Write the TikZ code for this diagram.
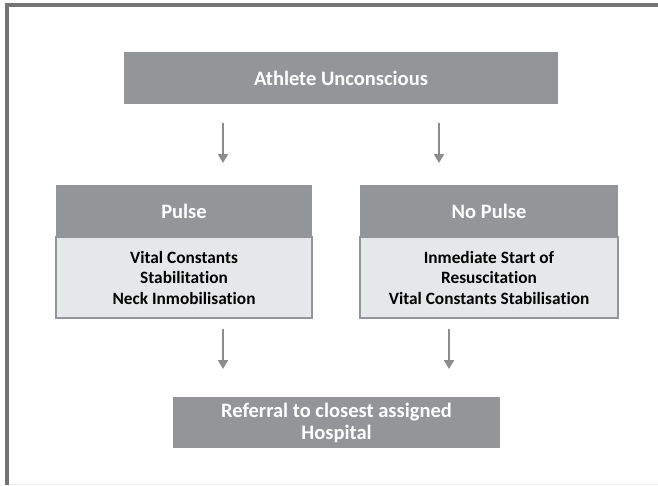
\documentclass[tikz,border=0pt]{standalone}
\usepackage{fontspec}
\setmainfont{Carlito}[RawFeature=-liga]
\usetikzlibrary{arrows.meta}
\definecolor{boxgray}{HTML}{939598}
\definecolor{lightbox}{HTML}{E6E7E8}
\definecolor{framegray}{HTML}{747474}
\definecolor{arrowgray}{HTML}{8C8C8C}
\tikzset{
  headbox/.style={rectangle, fill=boxgray, draw=none, text=white, font=\bfseries\fontsize{20.5}{22}\selectfont, align=center, inner sep=0pt},
  bodybox/.style={rectangle, fill=lightbox, draw=boxgray, line width=1.5pt, text=black, font=\bfseries\fontsize{17.3}{20.5}\selectfont, align=center, inner sep=0pt},
  flowarrow/.style={draw=arrowgray, line width=2.5pt, -{Triangle[width=10pt,length=9pt]}, shorten >=0pt},
  frameline/.style={draw=framegray, line width=4pt}
}
\begin{document}
\begin{tikzpicture}[x=1pt,y=-1pt]
\useasboundingbox (0,0) rectangle (658,485);
\fill[white] (0,0) rectangle (658,485);
% frame
\coordinate (ftl) at (5,5);
\coordinate (ftr) at (658,5);
\coordinate (fbl) at (7,485);
\draw[frameline] (ftl) -- (ftr);
\draw[frameline] (7,3) -- (fbl);
\draw[draw=black!6, line width=0.8pt] (9,484) -- (658,484);
% nodes
\node[headbox, minimum width=434pt, minimum height=52pt] (top) at (341,78) {Athlete Unconscious};
\node[headbox, minimum width=256pt, minimum height=52pt] (pulseh) at (184,211) {Pulse};
\node[bodybox, minimum width=256pt, minimum height=81pt] (pulseb) at (184,277.5) {Vital Constants\\Stabilitation\\Neck Inmobilisation};
\node[headbox, minimum width=258pt, minimum height=52pt] (npulseh) at (489,211) {No Pulse};
\node[bodybox, minimum width=258pt, minimum height=81pt] (npulseb) at (489,277.5) {Inmediate Start of\\Resuscitation\\Vital Constants Stabilisation};
\node[headbox, minimum width=327pt, minimum height=51pt] (ref) at (336.5,422.5) {Referral to closest assigned\\Hospital};
% arrow anchors
\coordinate (a1s) at (223,123); \coordinate (a1e) at (223,163);
\coordinate (a2s) at (439,123); \coordinate (a2e) at (439,163);
\coordinate (a3s) at (223,329); \coordinate (a3e) at (223,369);
\coordinate (a4s) at (449,329); \coordinate (a4e) at (449,369);
\draw[flowarrow] (a1s) -- (a1e);
\draw[flowarrow] (a2s) -- (a2e);
\draw[flowarrow] (a3s) -- (a3e);
\draw[flowarrow] (a4s) -- (a4e);
\end{tikzpicture}
\end{document}
